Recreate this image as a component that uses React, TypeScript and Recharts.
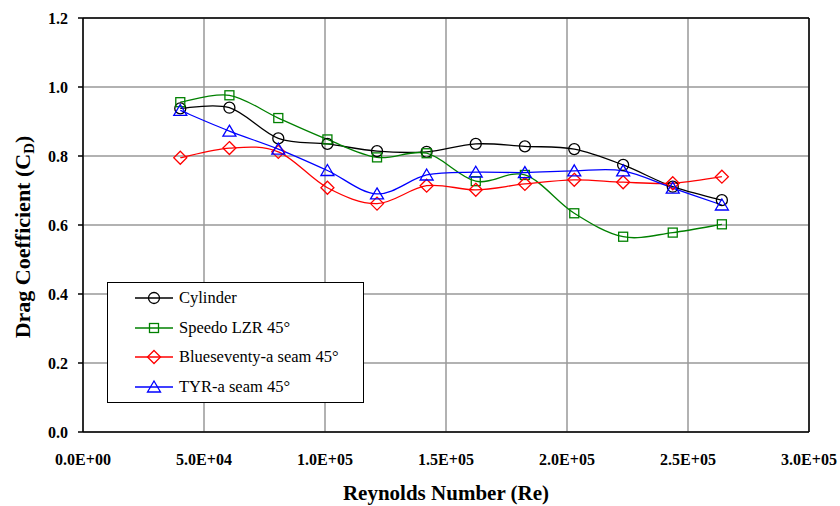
import React from "react";
import {
  LineChart,
  Line,
  XAxis,
  YAxis,
  CartesianGrid,
  ReferenceLine,
  Legend,
  Label,
} from "recharts";

// Reynolds numbers (x) and drag coefficients per swimsuit fabric
const reynolds = [40200, 60500, 80700, 101000, 121500, 142000, 162300, 182600, 203000, 223200, 243700, 264000];
const cylinder = [0.938, 0.94, 0.851, 0.835, 0.814, 0.812, 0.835, 0.828, 0.82, 0.774, 0.711, 0.672];
const speedo = [0.956, 0.976, 0.91, 0.848, 0.796, 0.808, 0.727, 0.745, 0.634, 0.566, 0.578, 0.602];
const blueseventy = [0.795, 0.823, 0.812, 0.708, 0.662, 0.714, 0.702, 0.719, 0.731, 0.724, 0.721, 0.74];
const tyr = [0.932, 0.872, 0.82, 0.758, 0.69, 0.745, 0.753, 0.752, 0.757, 0.757, 0.707, 0.658];

const xTicks = [0, 50000, 100000, 150000, 200000, 250000, 300000];
const xTickLabels = ["0.0E+00", "5.0E+04", "1.0E+05", "1.5E+05", "2.0E+05", "2.5E+05", "3.0E+05"];
const yTicks = [0, 0.2, 0.4, 0.6, 0.8, 1.0, 1.2];
const yTickLabels = ["0.0", "0.2", "0.4", "0.6", "0.8", "1.0", "1.2"];

const data = reynolds.map((re, i) => ({
  re,
  cylinder: cylinder[i],
  speedo: speedo[i],
  blueseventy: blueseventy[i],
  tyr: tyr[i],
}));

const FONT = "'Liberation Serif', 'Times New Roman', serif";

// excel-style smoothed line (catmull-rom through the points)
const excelSmooth = (context: any) => {
  let pts: number[][] = [];
  return {
    areaStart() {},
    areaEnd() {},
    lineStart() {
      pts = [];
    },
    lineEnd() {
      if (!pts.length) return;
      context.moveTo(pts[0][0], pts[0][1]);
      for (let i = 0; i < pts.length - 1; i++) {
        const p0 = pts[i - 1] || pts[i];
        const p1 = pts[i];
        const p2 = pts[i + 1];
        const p3 = pts[i + 2] || p2;
        context.bezierCurveTo(
          p1[0] + (p2[0] - p0[0]) / 6,
          p1[1] + (p2[1] - p0[1]) / 6,
          p2[0] - (p3[0] - p1[0]) / 6,
          p2[1] - (p3[1] - p1[1]) / 6,
          p2[0],
          p2[1]
        );
      }
    },
    point(x: number, y: number) {
      pts.push([+x, +y]);
    },
  };
};

type Shape = "circle" | "square" | "diamond" | "triangle";

function marker(shape: Shape, cx: number, cy: number, color: string, key?: any) {
  const common = { fill: "none", stroke: color, strokeWidth: 1.3 };
  if (shape === "circle") return <circle key={key} cx={cx} cy={cy} r={5.5} {...common} />;
  if (shape === "square") return <rect key={key} x={cx - 4.5} y={cy - 4.5} width={9} height={9} {...common} />;
  if (shape === "diamond")
    return <polygon key={key} points={`${cx},${cy - 6.5} ${cx + 6.5},${cy} ${cx},${cy + 6.5} ${cx - 6.5},${cy}`} {...common} />;
  return <polygon key={key} points={`${cx},${cy - 6} ${cx + 6.5},${cy + 5} ${cx - 6.5},${cy + 5}`} {...common} />;
}

const series: { key: string; name: string; color: string; shape: Shape }[] = [
  { key: "cylinder", name: "Cylinder", color: "#000000", shape: "circle" },
  { key: "speedo", name: "Speedo LZR 45°", color: "#008000", shape: "square" },
  { key: "blueseventy", name: "Blueseventy-a seam 45°", color: "#FF0000", shape: "diamond" },
  { key: "tyr", name: "TYR-a seam 45°", color: "#0000FF", shape: "triangle" },
];

function LegendBox() {
  return (
    <div
      style={{
        width: 257,
        height: 121,
        border: "1.5px solid #000",
        background: "#fff",
        fontFamily: FONT,
        fontSize: 16.5,
        boxSizing: "border-box",
      }}
    >
      {series.map((s, i) => (
        <div key={s.key} style={{ position: "absolute", left: 28, top: 5 + i * 29.7, height: 22, display: "flex", alignItems: "center" }}>
          <svg width={40} height={22} style={{ display: "block" }}>
            <line x1={0} y1={11} x2={38} y2={11} stroke={s.color} strokeWidth={1.3} />
            {marker(s.shape, 19, 11, s.color)}
          </svg>
          <span style={{ marginLeft: 4, whiteSpace: "nowrap" }}>{s.name}</span>
        </div>
      ))}
    </div>
  );
}

export default function App() {
  return (
    <div style={{ position: "absolute", left: 0, top: 0, width: 840, height: 506, background: "#fff" }}>
      <LineChart width={840} height={506} data={data} margin={{ top: 18, right: 31, bottom: 0, left: 0 }}>
        <CartesianGrid stroke="#999999" strokeWidth={1.5} horizontalValues={yTicks} verticalValues={xTicks} />
        <XAxis
          type="number"
          dataKey="re"
          domain={[0, 300000]}
          ticks={xTicks}
          tickFormatter={(v) => xTickLabels[xTicks.indexOf(v)]}
          height={74}
          tickLine={false}
          tickSize={0}
          tickMargin={22}
          axisLine={{ stroke: "#000", strokeWidth: 1.5 }}
          tick={{ fill: "#000", fontFamily: FONT, fontSize: 16, fontWeight: "bold" }}
          interval={0}
        >
          <Label
            content={() => (
              <text x={446} y={500} textAnchor="middle" fontFamily={FONT} fontSize={21} fontWeight="bold" fill="#000">
                Reynolds Number (Re)
              </text>
            )}
          />
        </XAxis>
        <YAxis
          type="number"
          domain={[0, 1.2]}
          ticks={yTicks}
          tickFormatter={(v) => yTickLabels[yTicks.indexOf(v)]}
          width={83}
          tickSize={5}
          tickMargin={10}
          tickLine={{ stroke: "#000", strokeWidth: 1.5 }}
          axisLine={{ stroke: "#000", strokeWidth: 1.5 }}
          tick={{ fill: "#000", fontFamily: FONT, fontSize: 16, fontWeight: "bold" }}
          interval={0}
        >
          <Label
            content={() => (
              <text
                x={30}
                y={237}
                transform="rotate(-90 30 237)"
                textAnchor="middle"
                fontFamily={FONT}
                fontSize={22}
                fontWeight="bold"
                fill="#000"
              >
                Drag Coefficient (C
                <tspan dy={4} fontSize={15}>D</tspan>
                <tspan dy={-4}>)</tspan>
              </text>
            )}
          />
        </YAxis>
        <ReferenceLine y={1.2} stroke="#000" strokeWidth={1.5} />
        <ReferenceLine x={300000} stroke="#000" strokeWidth={1.5} />
        {series.map((s) => (
          <Line
            key={s.key}
            dataKey={s.key}
            name={s.name}
            type={excelSmooth as any}
            stroke={s.color}
            strokeWidth={1.3}
            isAnimationActive={false}
            activeDot={false}
            dot={(p: any) => marker(s.shape, p.cx, p.cy, s.color, `${s.key}-${p.index}`)}
          />
        ))}
        <Legend
          layout="vertical"
          align="center"
          verticalAlign="middle"
          content={() => <LegendBox />}
          wrapperStyle={{ left: 107, top: 282, width: 257, height: 121 }}
        />
      </LineChart>
    </div>
  );
}
